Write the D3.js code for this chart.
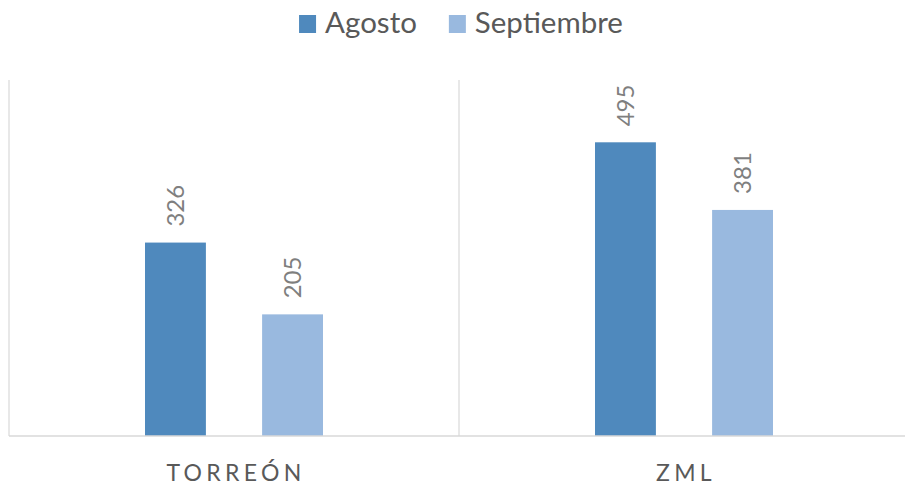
<!DOCTYPE html>
<html>
<head>
<meta charset="utf-8">
<script src="https://cdn.jsdelivr.net/npm/d3@7/dist/d3.min.js"></script>
<style>
  html, body { margin: 0; padding: 0; background: #ffffff; }
  svg { display: block; }
</style>
</head>
<body>
<svg id="chart" width="905" height="485"></svg>
<script>
// ---- data ----
const categories = ["TORREÓN", "ZML"];
const seriesNames = ["Agosto", "Septiembre"];
const agosto = [326, 495];
const septiembre = [205, 381];
const seriesColors = ["#4f89bd", "#99b9df"];

const seriesValues = [agosto, septiembre];
const table = categories.map((c, i) => ({
  category: c,
  values: seriesNames.map((s, j) => ({ series: s, value: seriesValues[j][i] }))
}));

// ---- layout ----
const W = 905, H = 485;
const plot = { left: 9, right: 909, top: 80, bottom: 436 };
const FONT = "Lato, 'Open Sans', sans-serif";

const svg = d3.select("#chart");

const x0 = d3.scaleBand()
  .domain(categories)
  .range([plot.left, plot.right])
  .paddingInner(0)
  .paddingOuter(0);

const groupPad = 136; // space on each side of the bar pair inside a category
const x1 = d3.scaleBand()
  .domain(seriesNames)
  .range([groupPad, x0.bandwidth() - groupPad])
  .paddingInner(0.48)
  .paddingOuter(0);

const y = d3.scaleLinear().domain([0, 600]).range([plot.bottom, plot.top]);

// separators (category boundaries)
const boundaries = categories.map(c => x0(c)).concat([x0(categories[categories.length - 1]) + x0.bandwidth()]);
svg.append("g").selectAll("line")
  .data(boundaries)
  .join("line")
  .attr("x1", d => d).attr("x2", d => d)
  .attr("y1", plot.top).attr("y2", plot.bottom)
  .attr("stroke", "#d9d9d9").attr("stroke-width", 1.2);

// bars
const groups = svg.append("g").selectAll("g")
  .data(table)
  .join("g")
  .attr("transform", d => `translate(${x0(d.category)},0)`);

groups.selectAll("rect")
  .data(d => d.values)
  .join("rect")
  .attr("x", d => x1(d.series))
  .attr("y", d => y(d.value))
  .attr("width", x1.bandwidth())
  .attr("height", d => y(0) - y(d.value))
  .attr("fill", (d, i) => seriesColors[i]);

// data labels (rotated)
groups.selectAll("text")
  .data(d => d.values)
  .join("text")
  .attr("transform", d => `translate(${x1(d.series) + x1.bandwidth() / 2},${y(d.value) - 16}) rotate(-90)`)
  .attr("dy", "0.36em")
  .attr("text-anchor", "start")
  .attr("font-family", FONT)
  .attr("font-size", 24)
  .attr("fill", "#7f7f7f")
  .text(d => d.value);

// x axis baseline
svg.append("line")
  .attr("x1", plot.left).attr("x2", W)
  .attr("y1", plot.bottom).attr("y2", plot.bottom)
  .attr("stroke", "#d9d9d9").attr("stroke-width", 1.5);

// category labels
const xAxis = d3.axisBottom(x0).tickSize(0).tickPadding(0);
const gx = svg.append("g")
  .attr("transform", `translate(0,${plot.bottom})`)
  .call(xAxis);
gx.select(".domain").remove();
gx.selectAll(".tick text")
  .attr("y", 45)
  .attr("dy", 0)
  .attr("font-family", FONT)
  .attr("font-size", 23)
  .attr("fill", "#595959")
  .attr("letter-spacing", "4.3px")
  .attr("dx", "2px");

// legend
const legend = svg.append("g");
const items = legend.selectAll("g")
  .data(seriesNames)
  .join("g");
items.append("rect")
  .attr("width", 17).attr("height", 18)
  .attr("y", 15)
  .attr("fill", (d, i) => seriesColors[i]);
items.append("text")
  .attr("x", 26)
  .attr("y", 33)
  .attr("font-family", FONT)
  .attr("font-size", 29.5)
  .attr("fill", "#595959")
  .text(d => d);
let cx = 0;
const offsets = [];
items.each(function () {
  offsets.push(cx);
  const w = 26 + this.querySelector("text").getComputedTextLength();
  cx += w + 32;
});
const totalW = cx - 32;
const startX = 461 - totalW / 2;
items.attr("transform", (d, i) => `translate(${startX + offsets[i]},0)`);
</script>
</body>
</html>
